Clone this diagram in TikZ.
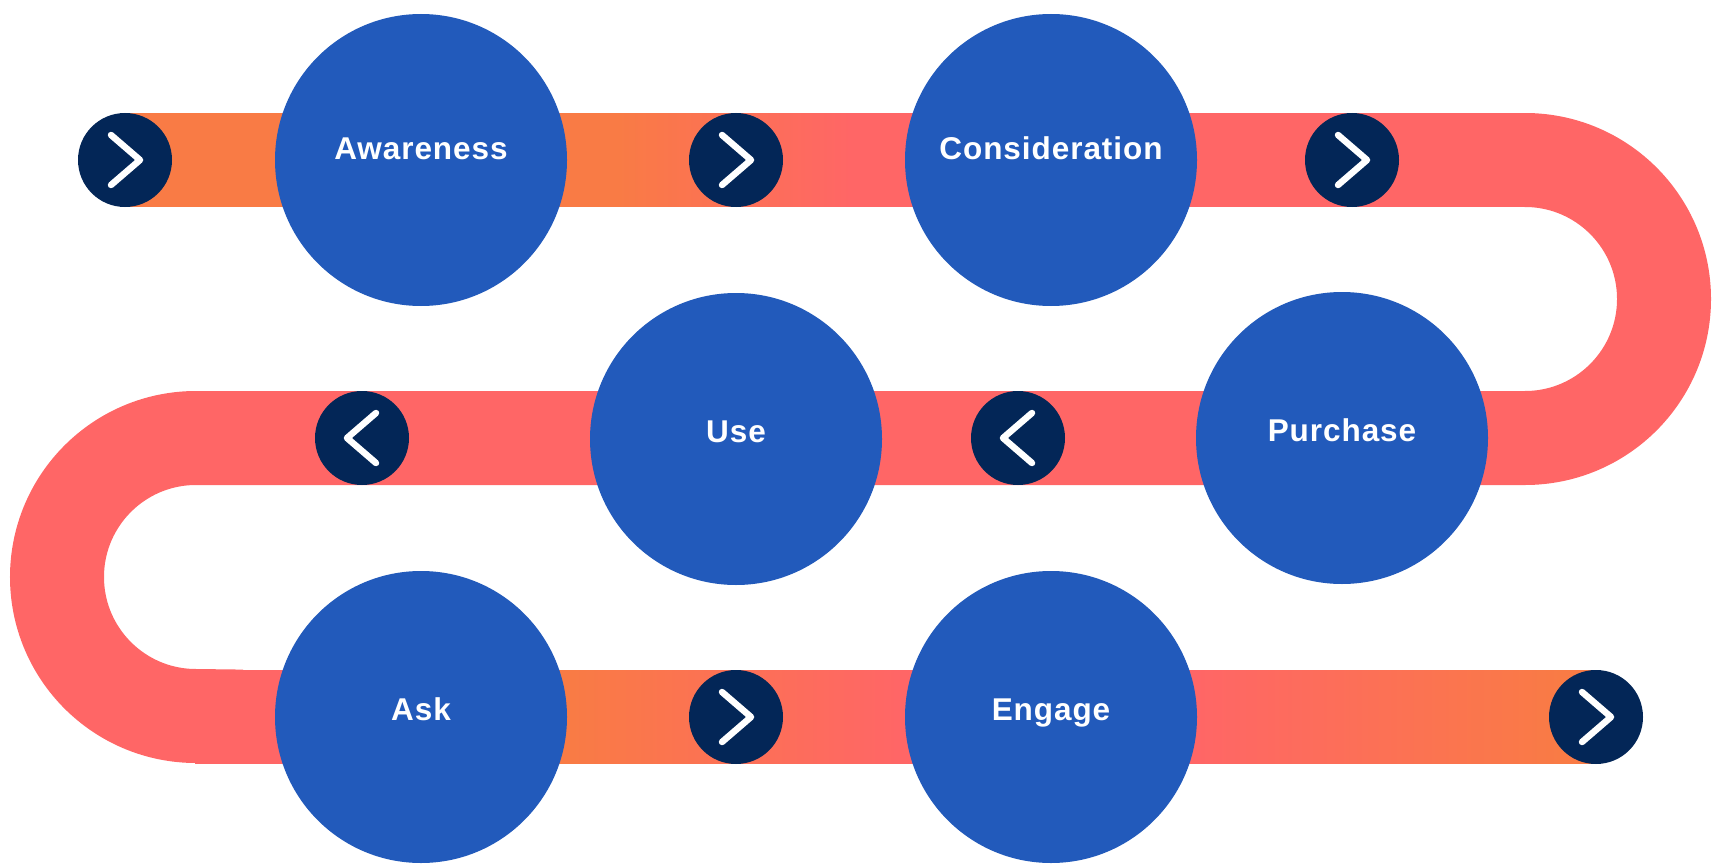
\documentclass[tikz,border=0pt]{standalone}
\usepackage{fontspec}
\setmainfont{Liberation Sans}
\newfontfamily\lblfont[LetterSpace=3.0]{Liberation Sans}
\definecolor{salm}{HTML}{FF6666}
\definecolor{orng}{HTML}{F97B45}
\definecolor{stageblue}{HTML}{225ABB}
\definecolor{navy}{HTML}{032657}
% positions: 25bp = left edge of the filled box, 75bp = right edge
\pgfdeclarehorizontalshading{topband}{100bp}{color(0bp)=(orng); color(42.6bp)=(orng); color(50.9bp)=(salm); color(100bp)=(salm)}
\pgfdeclarehorizontalshading{botband}{100bp}{color(0bp)=(salm); color(33.0bp)=(salm); color(33.1bp)=(orng); color(38.4bp)=(orng); color(50.1bp)=(salm); color(60.7bp)=(salm); color(73.8bp)=(orng); color(100bp)=(orng)}
\tikzset{
  band/.style={line width=94pt, salm},
  stage/.style={circle, fill=stageblue, minimum size=292pt, inner sep=0pt,
    text=white, font=\lblfont\bfseries\fontsize{31.5}{31.5}\selectfont,
    text height=6pt, text depth=0pt},
  toprow/.style={text height=0pt},
  knob/.style={circle, fill=navy, minimum size=94pt, inner sep=0pt},
  chev/.style={white, line width=6.5pt, line cap=round, line join=round}
}
\begin{document}
\begin{tikzpicture}[x=1pt,y=-1pt]
\useasboundingbox (0,0) rectangle (1719,864);
\coordinate (bstart) at (125,160);
\coordinate (rtop) at (1525,160);
\coordinate (lbot) at (196,717);
\coordinate (bend) at (1596,717);
% band: curved part and middle run
\draw[band] (rtop) arc[start angle=-90,end angle=90,radius=139]
  -- (196,438) arc[start angle=270,end angle=90,radius=139] -- (lbot);
% straight runs with colour gradients
\shade[shading=topband] (bstart |- 0,113.6) rectangle (1526,206.4);
\shade[shading=botband] (195,670.6) rectangle (bend |- 0,763.4);
% stages
\node[stage,toprow] (aw) at (421,160) {Awareness};
\node[stage,toprow] (co) at (1051,160) {Consideration};
\node[stage] (us) at (736,439) {Use};
\node[stage] (pu) at (1342,438) {Purchase};
\node[stage] (as) at (421,717) {Ask};
\node[stage] (en) at (1051,717) {Engage};
% knobs
\node[knob] (k1) at (bstart) {};
\node[knob] (k2) at (736,160) {};
\node[knob] (k3) at (1352,160) {};
\node[knob] (k4) at (1018,438) {};
\node[knob] (k5) at (362,438) {};
\node[knob] (k6) at (736,717) {};
\node[knob] (k7) at (bend) {};
\foreach \n/\a/\b in {k1/-14/15,k2/-14/15,k3/-14/15,k4/14/-15,k5/14/-15,k6/-14/15,k7/-14/15}
  \draw[chev] ([shift={(\a,-25)}]\n.center) -- ([shift={(\b,0)}]\n.center) -- ([shift={(\a,25)}]\n.center);
\end{tikzpicture}
\end{document}
